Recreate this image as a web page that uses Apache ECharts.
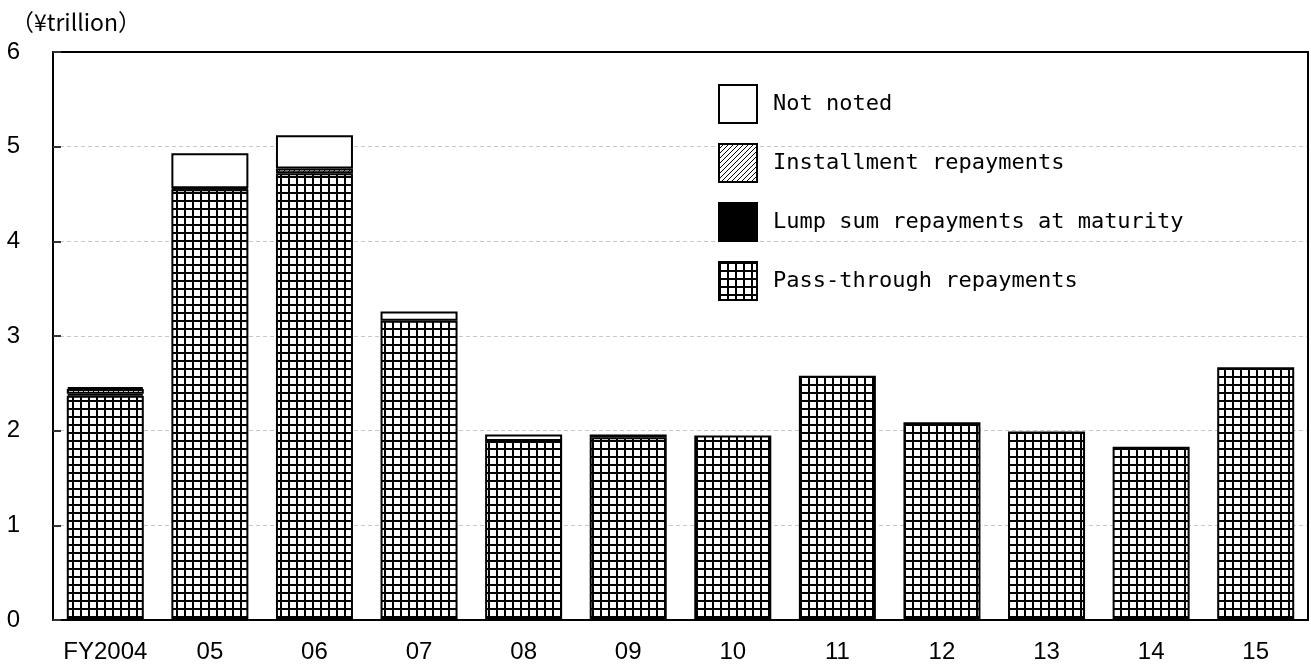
<!DOCTYPE html>
<html>
<head>
<meta charset="utf-8">
<script src="https://cdn.jsdelivr.net/npm/echarts@6/dist/echarts.min.js"></script>
<style>
  html, body { margin: 0; padding: 0; background: #fff; }
  #chart { width: 1311px; height: 668px; }
</style>
</head>
<body>
<div id="chart"></div>
<script>
// Fiscal years on the horizontal axis
const categories = ['FY2004', '05', '06', '07', '08', '09', '10', '11', '12', '13', '14', '15'];

// Repayment amounts by method (¥ trillion), bottom of the stack first
const passThrough = [2.37, 4.55, 4.72, 3.16, 1.89, 1.93, 1.95, 2.58, 2.09, 1.99, 1.83, 2.67];
const lumpSum     = [0.02, 0.01, null, null, null, 0.03, null, null, null, null, null, null];
const installment = [0.05, null, 0.05, null, null, null, null, null, null, null, null, null];
const notNoted    = [0.02, 0.37, 0.35, 0.10, 0.07, null, null, null, null, null, null, null];

const seriesNames = ['Pass-through repayments', 'Lump sum repayments at maturity', 'Installment repayments', 'Not noted'];
const yTicks = [0, 1, 2, 3, 4, 5, 6];

// Square grid fill
function gridPattern() {
  const c = document.createElement('canvas');
  c.width = 8; c.height = 8;
  const g = c.getContext('2d');
  g.fillStyle = '#fff'; g.fillRect(0, 0, 8, 8);
  g.fillStyle = '#000';
  g.fillRect(0, 0, 2, 8);
  g.fillRect(0, 0, 8, 2);
  return c;
}
// Diagonal hatch fill
function hatchPattern() {
  const c = document.createElement('canvas');
  c.width = 5; c.height = 5;
  const g = c.getContext('2d');
  g.fillStyle = '#fff'; g.fillRect(0, 0, 5, 5);
  g.strokeStyle = '#000'; g.lineWidth = 1;
  g.beginPath();
  g.moveTo(-1, 6); g.lineTo(6, -1);
  g.moveTo(-1, 1); g.lineTo(1, -1);
  g.moveTo(4, 6); g.lineTo(6, 4);
  g.stroke();
  return c;
}

const fills = [
  { image: gridPattern(), repeat: 'repeat' },
  '#000',
  { image: hatchPattern(), repeat: 'repeat' },
  '#fff'
];
const values = [passThrough, lumpSum, installment, notNoted];

const chart = echarts.init(document.getElementById('chart'), null, { renderer: 'canvas' });

const labelFont = 'Liberation Sans, Arial, sans-serif';
const frameLine = { show: true, onZero: false, lineStyle: { color: '#000', width: 2 } };

chart.setOption({
  animation: false,
  backgroundColor: '#fff',
  title: {
    text: '（¥trillion）',
    left: 6, top: 6,
    textStyle: { fontFamily: 'Noto Sans CJK JP', fontWeight: 'normal', fontSize: 23, color: '#000' }
  },
  grid: { left: 53, right: 3, top: 52, bottom: 48 },
  legend: {
    orient: 'vertical',
    left: 713, top: 79,
    itemWidth: 38, itemHeight: 38, itemGap: 19,
    icon: 'rect',
    data: ['Not noted', 'Installment repayments', 'Lump sum repayments at maturity', 'Pass-through repayments'],
    textStyle: {
      fontFamily: 'DejaVu Sans Mono, monospace',
      fontSize: 22, color: '#000',
      padding: [0, 0, 0, 11]
    }
  },
  xAxis: [{
    type: 'category',
    data: categories,
    axisLine: frameLine,
    axisTick: { inside: true, length: 6, lineStyle: { color: '#444', width: 1 } },
    axisLabel: { color: '#000', fontFamily: labelFont, fontSize: 24, margin: 20, interval: 0 }
  }, {
    // top edge of the plot frame
    type: 'category',
    position: 'top',
    data: categories,
    axisLine: frameLine,
    axisTick: { show: false },
    axisLabel: { show: false }
  }],
  yAxis: [{
    type: 'value',
    min: yTicks[0], max: yTicks[yTicks.length - 1], interval: 1,
    axisLine: frameLine,
    axisTick: { show: true, inside: true, length: 8, lineStyle: { color: '#333', width: 2 } },
    axisLabel: { color: '#000', fontFamily: labelFont, fontSize: 24, margin: 33, align: 'right', padding: [5, 0, 0, 0] },
    splitLine: { lineStyle: { color: '#c8c8c8', type: [4, 3], width: 1 } }
  }, {
    // right edge of the plot frame
    type: 'value',
    position: 'right',
    min: yTicks[0], max: yTicks[yTicks.length - 1], interval: 1,
    axisLine: frameLine,
    axisTick: { show: false },
    axisLabel: { show: false },
    splitLine: { show: false }
  }],
  series: seriesNames.map((name, i) => ({
    name: name,
    type: 'bar',
    stack: 'total',
    barWidth: 77,
    data: values[i],
    itemStyle: { color: fills[i], borderColor: '#000', borderWidth: 2 }
  }))
});
</script>
</body>
</html>
